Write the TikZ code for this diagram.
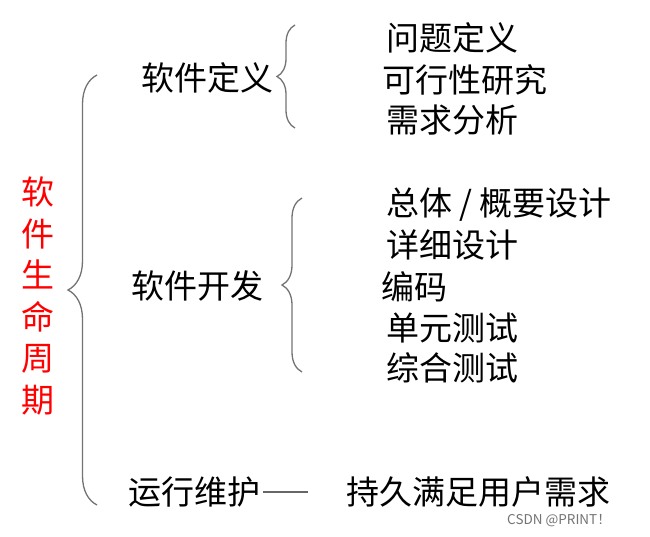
\documentclass[tikz,border=0pt]{standalone}
\usepackage{fontspec}
\setmainfont{Noto Sans CJK SC}
\usetikzlibrary{decorations.pathreplacing}

\tikzset{
  txt/.style={anchor=west, inner sep=0pt, font=\fontsize{33}{38}\selectfont},
  brc/.style={draw=black!55, line width=1.3pt, decorate, decoration={brace, amplitude=#1}},
  brc/.default=18,
}

\begin{document}
\begin{tikzpicture}[x=1pt, y=-1pt]
	\useasboundingbox (0, 0) rectangle (650, 536);
	% vertical title
	\node[align=center, inner sep=0pt, text=red, font=\fontsize{33}{41.6}\selectfont] (life) at (38, 296) {软\\件\\生\\命\\周\\期};
	% phases
	\node[txt] (def) at (141, 78) {软件定义};
	\node[txt] (dev) at (131, 286) {软件开发};
	\node[txt] (maint) at (128, 492) {运行维护};
	% steps of definition
	\node[txt] (d1) at (386, 38) {问题定义};
	\node[txt] (d2) at (382, 80) {可行性研究};
	\node[txt] (d3) at (386, 120) {需求分析};
	% steps of development
	\node[txt] (s1) at (386, 205) {总体 / 概要设计};
	\node[txt] (s2) at (386, 245) {详细设计};
	\node[txt] (s3) at (381, 287) {编码};
	\node[txt] (s4) at (386, 328) {单元测试};
	\node[txt] (s5) at (386, 368) {综合测试};
	\node[txt] (forever) at (346, 492) {持久满足用户需求};
	% braces
	\coordinate (bigtop) at (97, 75);
	\coordinate (bigbot) at (97, 505);
	\coordinate (deftop) at (295, 25);
	\coordinate (defbot) at (295, 128);
	\coordinate (devtop) at (302, 198);
	\coordinate (devbot) at (302, 372);
	\draw[brc=29] (bigbot) -- (bigtop);
	\draw[brc=18] (defbot) -- (deftop);
	\draw[brc=20] (devbot) -- (devtop);
	% dash after maintenance
	\coordinate (dashend) at (308, 492);
	\draw[black!60, line width=1.3pt] ([xshift=3pt]maint.east) -- (dashend);
	% watermark
	\node[anchor=east, inner sep=0pt, text=black!55, font=\fontsize{13.5}{15}\selectfont] (mark) at (611, 521) {CSDN @PRINT！};
\end{tikzpicture}
\end{document}
